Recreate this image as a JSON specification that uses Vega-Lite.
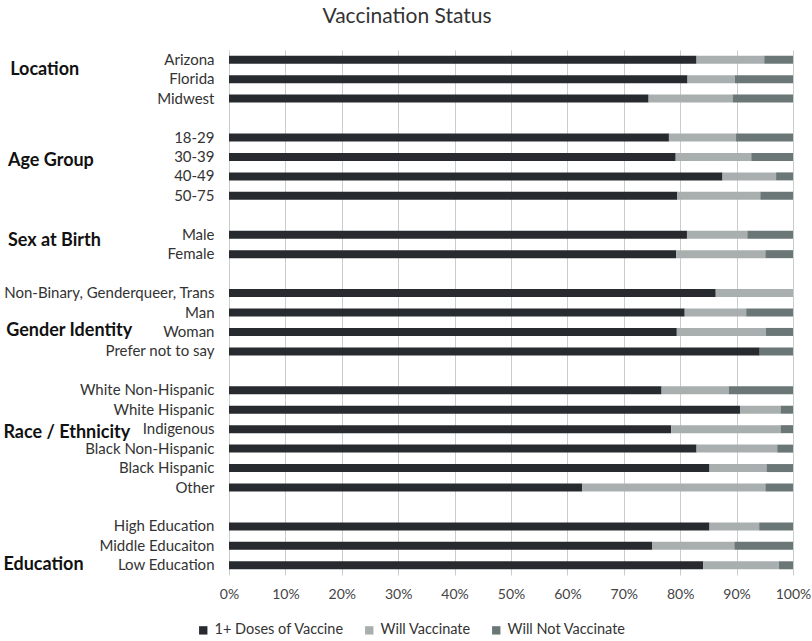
{
  "$schema": "https://vega.github.io/schema/vega-lite/v6.json",
  "autosize": {"type": "none"},
  "padding": {"left": 229, "top": 50, "right": 19, "bottom": 66},
  "width": 564,
  "height": 525,
  "background": "white",
  "title": {
    "text": "Vaccination Status",
    "anchor": "middle",
    "frame": "bounds",
    "font": "Lato",
    "fontSize": 21,
    "fontWeight": "normal",
    "color": "#333333",
    "offset": 23
  },
  "config": {
    "view": {"stroke": null},
    "font": "Lato"
  },
  "datasets": {
    "bars": [
      {"cat": "Arizona", "status": "1+ Doses of Vaccine", "pct": 82.9},
      {"cat": "Arizona", "status": "Will Vaccinate", "pct": 12.0},
      {"cat": "Arizona", "status": "Will Not Vaccinate", "pct": 5.1},
      {"cat": "Florida", "status": "1+ Doses of Vaccine", "pct": 81.3},
      {"cat": "Florida", "status": "Will Vaccinate", "pct": 8.4},
      {"cat": "Florida", "status": "Will Not Vaccinate", "pct": 10.3},
      {"cat": "Midwest", "status": "1+ Doses of Vaccine", "pct": 74.4},
      {"cat": "Midwest", "status": "Will Vaccinate", "pct": 14.9},
      {"cat": "Midwest", "status": "Will Not Vaccinate", "pct": 10.7},
      {"cat": "18-29", "status": "1+ Doses of Vaccine", "pct": 78.0},
      {"cat": "18-29", "status": "Will Vaccinate", "pct": 11.9},
      {"cat": "18-29", "status": "Will Not Vaccinate", "pct": 10.1},
      {"cat": "30-39", "status": "1+ Doses of Vaccine", "pct": 79.2},
      {"cat": "30-39", "status": "Will Vaccinate", "pct": 13.4},
      {"cat": "30-39", "status": "Will Not Vaccinate", "pct": 7.4},
      {"cat": "40-49", "status": "1+ Doses of Vaccine", "pct": 87.5},
      {"cat": "40-49", "status": "Will Vaccinate", "pct": 9.5},
      {"cat": "40-49", "status": "Will Not Vaccinate", "pct": 3.0},
      {"cat": "50-75", "status": "1+ Doses of Vaccine", "pct": 79.5},
      {"cat": "50-75", "status": "Will Vaccinate", "pct": 14.7},
      {"cat": "50-75", "status": "Will Not Vaccinate", "pct": 5.8},
      {"cat": "Male", "status": "1+ Doses of Vaccine", "pct": 81.2},
      {"cat": "Male", "status": "Will Vaccinate", "pct": 10.7},
      {"cat": "Male", "status": "Will Not Vaccinate", "pct": 8.1},
      {"cat": "Female", "status": "1+ Doses of Vaccine", "pct": 79.3},
      {"cat": "Female", "status": "Will Vaccinate", "pct": 15.8},
      {"cat": "Female", "status": "Will Not Vaccinate", "pct": 4.9},
      {"cat": "Non-Binary, Genderqueer, Trans", "status": "1+ Doses of Vaccine", "pct": 86.3},
      {"cat": "Non-Binary, Genderqueer, Trans", "status": "Will Vaccinate", "pct": 13.7},
      {"cat": "Non-Binary, Genderqueer, Trans", "status": "Will Not Vaccinate", "pct": 0},
      {"cat": "Man", "status": "1+ Doses of Vaccine", "pct": 80.8},
      {"cat": "Man", "status": "Will Vaccinate", "pct": 10.9},
      {"cat": "Man", "status": "Will Not Vaccinate", "pct": 8.3},
      {"cat": "Woman", "status": "1+ Doses of Vaccine", "pct": 79.4},
      {"cat": "Woman", "status": "Will Vaccinate", "pct": 15.8},
      {"cat": "Woman", "status": "Will Not Vaccinate", "pct": 4.8},
      {"cat": "Prefer not to say", "status": "1+ Doses of Vaccine", "pct": 94.1},
      {"cat": "Prefer not to say", "status": "Will Vaccinate", "pct": 0},
      {"cat": "Prefer not to say", "status": "Will Not Vaccinate", "pct": 5.9},
      {"cat": "White Non-Hispanic", "status": "1+ Doses of Vaccine", "pct": 76.7},
      {"cat": "White Non-Hispanic", "status": "Will Vaccinate", "pct": 11.9},
      {"cat": "White Non-Hispanic", "status": "Will Not Vaccinate", "pct": 11.4},
      {"cat": "White Hispanic", "status": "1+ Doses of Vaccine", "pct": 90.6},
      {"cat": "White Hispanic", "status": "Will Vaccinate", "pct": 7.2},
      {"cat": "White Hispanic", "status": "Will Not Vaccinate", "pct": 2.2},
      {"cat": "Indigenous", "status": "1+ Doses of Vaccine", "pct": 78.4},
      {"cat": "Indigenous", "status": "Will Vaccinate", "pct": 19.4},
      {"cat": "Indigenous", "status": "Will Not Vaccinate", "pct": 2.2},
      {"cat": "Black Non-Hispanic", "status": "1+ Doses of Vaccine", "pct": 82.9},
      {"cat": "Black Non-Hispanic", "status": "Will Vaccinate", "pct": 14.3},
      {"cat": "Black Non-Hispanic", "status": "Will Not Vaccinate", "pct": 2.8},
      {"cat": "Black Hispanic", "status": "1+ Doses of Vaccine", "pct": 85.2},
      {"cat": "Black Hispanic", "status": "Will Vaccinate", "pct": 10.1},
      {"cat": "Black Hispanic", "status": "Will Not Vaccinate", "pct": 4.7},
      {"cat": "Other", "status": "1+ Doses of Vaccine", "pct": 62.6},
      {"cat": "Other", "status": "Will Vaccinate", "pct": 32.5},
      {"cat": "Other", "status": "Will Not Vaccinate", "pct": 4.9},
      {"cat": "High Education", "status": "1+ Doses of Vaccine", "pct": 85.2},
      {"cat": "High Education", "status": "Will Vaccinate", "pct": 8.8},
      {"cat": "High Education", "status": "Will Not Vaccinate", "pct": 6.0},
      {"cat": "Middle Educaiton", "status": "1+ Doses of Vaccine", "pct": 75.0},
      {"cat": "Middle Educaiton", "status": "Will Vaccinate", "pct": 14.6},
      {"cat": "Middle Educaiton", "status": "Will Not Vaccinate", "pct": 10.4},
      {"cat": "Low Education", "status": "1+ Doses of Vaccine", "pct": 84.1},
      {"cat": "Low Education", "status": "Will Vaccinate", "pct": 13.4},
      {"cat": "Low Education", "status": "Will Not Vaccinate", "pct": 2.5}
    ]
  },
  "layer": [
    {
      "data": {"name": "bars"},
      "transform": [
        {"calculate": "indexof(['1+ Doses of Vaccine','Will Vaccinate','Will Not Vaccinate'], datum.status)", "as": "ord"}
      ],
      "mark": {"type": "bar", "size": 8},
      "encoding": {
        "y": {
          "field": "cat",
          "type": "nominal",
          "sort": null,
          "scale": {
            "domain": ["Arizona", "Florida", "Midwest", "gap1", "18-29", "30-39", "40-49", "50-75", "gap2", "Male", "Female", "gap3", "Non-Binary, Genderqueer, Trans", "Man", "Woman", "Prefer not to say", "gap4", "White Non-Hispanic", "White Hispanic", "Indigenous", "Black Non-Hispanic", "Black Hispanic", "Other", "gap5", "High Education", "Middle Educaiton", "Low Education"],
            "paddingInner": 0, "paddingOuter": 0
          },
          "axis": {
            "title": null,
            "ticks": false,
            "domain": false,
            "labelExpr": "indexof(datum.value, 'gap') == 0 ? '' : datum.value",
            "labelFont": "Lato",
            "labelFontSize": 15,
            "labelColor": "#333333",
            "labelPadding": 15,
            "labelLimit": 300,
            "labelOverlap": false
          }
        },
        "x": {
          "field": "pct",
          "type": "quantitative",
          "stack": "normalize",
          "scale": {"domain": [0, 1]},
          "axis": {
            "title": null,
            "format": ".0%",
            "values": [0, 0.1, 0.2, 0.3, 0.4, 0.5, 0.6, 0.7, 0.8, 0.9, 1],
            "ticks": false,
            "domain": false,
            "grid": true,
            "gridColor": "#c6cece",
            "gridWidth": 1,
            "labelFont": "Lato",
            "labelFontSize": 14,
            "labelColor": "#444444",
            "labelPadding": 12,
            "labelOverlap": false,
            "labelFlush": false,
            "labelBound": false
          }
        },
        "color": {
          "field": "status",
          "type": "nominal",
          "scale": {
            "domain": ["1+ Doses of Vaccine", "Will Vaccinate", "Will Not Vaccinate"],
            "range": ["#272b2f", "#a9afaf", "#6b7777"]
          },
          "legend": {
            "title": null,
            "orient": "none",
            "legendX": -33,
            "legendY": 573,
            "direction": "horizontal",
            "symbolType": "square",
            "symbolSize": 70,
            "symbolStrokeWidth": 0,
            "labelFont": "Lato",
            "labelFontSize": 14.5,
            "labelColor": "#333333",
            "columnPadding": 18
          }
        },
        "order": {"field": "ord", "type": "quantitative"}
      }
    },
    {
      "data": {"values": [{"group": "Location", "anchor": "Arizona"}]},
      "mark": {"type": "text", "align": "left", "baseline": "middle", "font": "Lato", "fontSize": 18, "fontWeight": "bold", "color": "#111111", "dy": 10},
      "encoding": {"y": {"field": "anchor", "type": "nominal"}, "x": {"datum": -0.388}, "text": {"field": "group"}}
    },
    {
      "data": {"values": [{"group": "Age Group", "anchor": "30-39"}]},
      "mark": {"type": "text", "align": "left", "baseline": "middle", "font": "Lato", "fontSize": 18, "fontWeight": "bold", "color": "#111111", "dy": 4},
      "encoding": {"y": {"field": "anchor", "type": "nominal"}, "x": {"datum": -0.392}, "text": {"field": "group"}}
    },
    {
      "data": {"values": [{"group": "Sex at Birth", "anchor": "Male"}]},
      "mark": {"type": "text", "align": "left", "baseline": "middle", "font": "Lato", "fontSize": 18, "fontWeight": "bold", "color": "#111111", "dy": 6},
      "encoding": {"y": {"field": "anchor", "type": "nominal"}, "x": {"datum": -0.392}, "text": {"field": "group"}}
    },
    {
      "data": {"values": [{"group": "Gender Identity", "anchor": "Woman"}]},
      "mark": {"type": "text", "align": "left", "baseline": "middle", "font": "Lato", "fontSize": 18, "fontWeight": "bold", "color": "#111111", "dy": -1},
      "encoding": {"y": {"field": "anchor", "type": "nominal"}, "x": {"datum": -0.395}, "text": {"field": "group"}}
    },
    {
      "data": {"values": [{"group": "Race / Ethnicity", "anchor": "Indigenous"}]},
      "mark": {"type": "text", "align": "left", "baseline": "middle", "font": "Lato", "fontSize": 18, "fontWeight": "bold", "color": "#111111", "dy": 4},
      "encoding": {"y": {"field": "anchor", "type": "nominal"}, "x": {"datum": -0.4}, "text": {"field": "group"}}
    },
    {
      "data": {"values": [{"group": "Education", "anchor": "Low Education"}]},
      "mark": {"type": "text", "align": "left", "baseline": "middle", "font": "Lato", "fontSize": 18, "fontWeight": "bold", "color": "#111111", "dy": 0},
      "encoding": {"y": {"field": "anchor", "type": "nominal"}, "x": {"datum": -0.4}, "text": {"field": "group"}}
    }
  ]
}
